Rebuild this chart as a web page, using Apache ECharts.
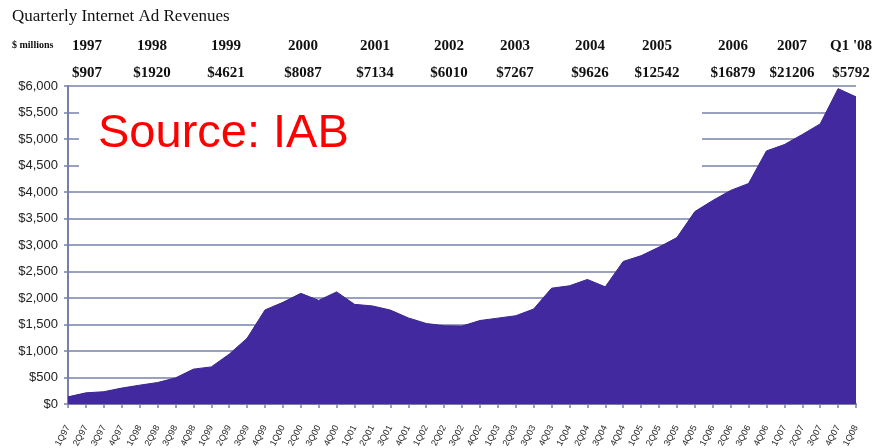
<!DOCTYPE html>
<html>
<head>
<meta charset="utf-8">
<script src="https://cdn.jsdelivr.net/npm/echarts@6/dist/echarts.min.js"></script>
<style>
  html, body { margin: 0; padding: 0; background: #fff; }
  #main { width: 876px; height: 448px; }
</style>
</head>
<body>
<div id="main"></div>
<script>
// quarter labels along the bottom
const quarters = [
    '1Q97', '2Q97', '3Q97', '4Q97', '1Q98', '2Q98', '3Q98', '4Q98',
    '1Q99', '2Q99', '3Q99', '4Q99', '1Q00', '2Q00', '3Q00', '4Q00',
    '1Q01', '2Q01', '3Q01', '4Q01', '1Q02', '2Q02', '3Q02', '4Q02',
    '1Q03', '2Q03', '3Q03', '4Q03', '1Q04', '2Q04', '3Q04', '4Q04',
    '1Q05', '2Q05', '3Q05', '4Q05', '1Q06', '2Q06', '3Q06', '4Q06',
    '1Q07', '2Q07', '3Q07', '4Q07', '1Q08'
]

// quarterly revenue, $ millions
const revenue = [
    135, 210, 232, 300, 355, 405, 492, 658,
    700, 940, 1240, 1775, 1918, 2088, 1955, 2115,
    1880, 1850, 1772, 1625, 1520, 1475, 1470, 1575,
    1620, 1665, 1792, 2185, 2230, 2350, 2210, 2690,
    2798, 2960, 3140, 3630, 3840, 4030, 4160, 4775,
    4895, 5085, 5285, 5950, 5795
]

// yearly totals shown across the top
const years = ['1997', '1998', '1999', '2000', '2001', '2002', '2003', '2004', '2005', '2006', '2007', "Q1 '08"]
const totals = ['$907', '$1920', '$4621', '$8087', '$7134', '$6010', '$7267', '$9626', '$12542', '$16879', '$21206', '$5792']
const colX = [87, 152, 226, 303, 375, 449, 515, 590, 657, 733, 792, 851]

const chartDom = document.getElementById('main')
const myChart = echarts.init(chartDom, null, { renderer: 'canvas' })

const gridColor = '#7880aa'
const serif = '"Liberation Serif", "Times New Roman", serif'
const sans = '"Liberation Sans", Arial, sans-serif'

const topTexts = []
years.forEach((y, i) => {
    topTexts.push({
        type: 'text', x: colX[i], y: 39,
        style: { text: y, font: 'bold 15px ' + serif, fill: '#111', align: 'center' }
    })
    topTexts.push({
        type: 'text', x: colX[i], y: 66,
        style: { text: totals[i], font: 'bold 15px ' + serif, fill: '#111', align: 'center' }
    })
})

const option = {
    backgroundColor: '#fff',
    animation: false,
    grid: { left: 68, right: 20, top: 86, bottom: 44, outerBoundsMode: 'none' },
    xAxis: {
        type: 'category',
        data: quarters,
        boundaryGap: false,
        axisLine: { lineStyle: { color: gridColor, width: 2 } },
        axisTick: { show: true, interval: 0, length: 4, lineStyle: { color: gridColor, width: 1.5 } },
        axisLabel: {
            interval: 0, rotate: 62, margin: 22,
            fontSize: 9, fontFamily: sans, color: '#222'
        }
    },
    yAxis: {
        type: 'value',
        min: 0, max: 6000, interval: 500,
        axisLine: { show: true, lineStyle: { color: gridColor, width: 2 } },
        axisTick: { show: true, length: 4, lineStyle: { color: gridColor, width: 1.5 } },
        axisLabel: {
            margin: 10, fontSize: 13, fontFamily: sans, color: '#222',
            formatter: v => '$' + v.toLocaleString('en-US')
        },
        splitLine: { lineStyle: { color: gridColor, width: 1.5 } }
    },
    series: [{
        type: 'line',
        data: revenue,
        symbol: 'none',
        lineStyle: { width: 1, color: '#3a2590' },
        areaStyle: { color: '#4329a0', opacity: 1 },
        z: 3
    }],
    graphic: [
        {
            type: 'text', left: 12, top: 8,
            style: { text: 'Quarterly Internet Ad Revenues', font: '17px ' + serif, fill: '#111' }
        },
        {
            type: 'text', left: 12, top: 40,
            style: { text: '$ millions', font: 'bold 10px ' + serif, fill: '#111' }
        },
        ...topTexts,
        {
            type: 'rect', z: 10,
            shape: { x: 79, y: 98, width: 623, height: 78 },
            style: { fill: '#fff' }
        },
        {
            type: 'text', z: 11, left: 98, top: 111,
            style: { text: 'Source: IAB', font: '47px ' + sans, fill: '#ff0000' }
        }
    ]
}

myChart.setOption(option)
</script>
</body>
</html>
